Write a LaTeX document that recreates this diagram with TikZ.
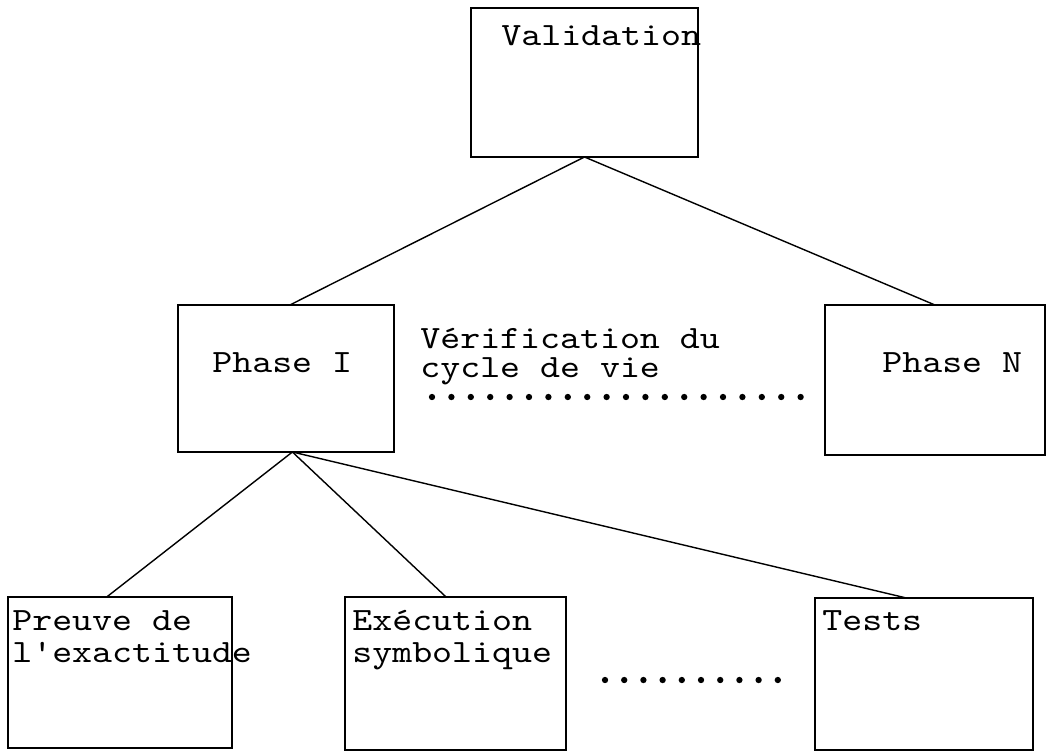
\documentclass[tikz,border=0pt]{standalone}
\usepackage{fontspec}
\newfontfamily\typew[FakeStretch=1.17]{lmmono10-regular.otf}
\begin{document}
\begin{tikzpicture}[x=0.02cm,y=-0.02cm,
  box/.style={draw,line width=0.8pt,inner sep=0pt,outer sep=0pt,anchor=north west},
  txt/.style={font=\typew\fontsize{18.5}{22}\selectfont,anchor=base west,inner sep=0pt},
  dot/.style={fill,circle,inner sep=0pt,minimum size=3.6pt},
  link/.style={line width=0.8pt}]
  \useasboundingbox (0,0) rectangle (1053,755);

  % Boxes
  \node[box,minimum width=4.54cm,minimum height=2.98cm] (valid) at (471,8) {};
  \node[box,minimum width=4.32cm,minimum height=2.94cm] (phase1) at (178,305) {};
  \node[box,minimum width=4.40cm,minimum height=3.00cm] (phaseN) at (825,305) {};
  \node[box,minimum width=4.48cm,minimum height=3.02cm] (preuve) at (8,597) {};
  \node[box,minimum width=4.42cm,minimum height=3.06cm] (exec) at (345,597) {};
  \node[box,minimum width=4.36cm,minimum height=3.04cm] (tests) at (815,598) {};

  % Labels
  \node[txt] (tvalid) at (501,45) {Validation};
  \node[txt] (tphase1) at (212,372) {Phase I};
  \node[txt] (tphaseN) at (882,372) {Phase N};
  \node[txt] (tverif) at (420,348) {Vérification du};
  \node[txt] (tcycle) at (420,377) {cycle de vie};
  \node[txt] (tpreuve) at (12,630) {Preuve de};
  \node[txt] (texact) at (12,662) {l'exactitude};
  \node[txt] (texec) at (352,630) {Exécution};
  \node[txt] (tsymb) at (352,662) {symbolique};
  \node[txt] (ttests) at (822,630) {Tests};

  % Tree links
  \draw[link] (valid.south) -- (phase1.87);
  \draw[link] (valid.south) -- (phaseN.north);
  \draw[link] (phase1.-85) -- (preuve.100);
  \draw[link] (phase1.-85) -- (exec.97);
  \draw[link] (phase1.-85) -- (tests.103);

  % Dotted rows
  \foreach \i in {0,...,19}
    \node[dot] (m\i) at (432+\i*19.4,397) {};
  \foreach \i in {0,...,9}
    \node[dot] (b\i) at (605+\i*19.2,680) {};
\end{tikzpicture}
\end{document}
